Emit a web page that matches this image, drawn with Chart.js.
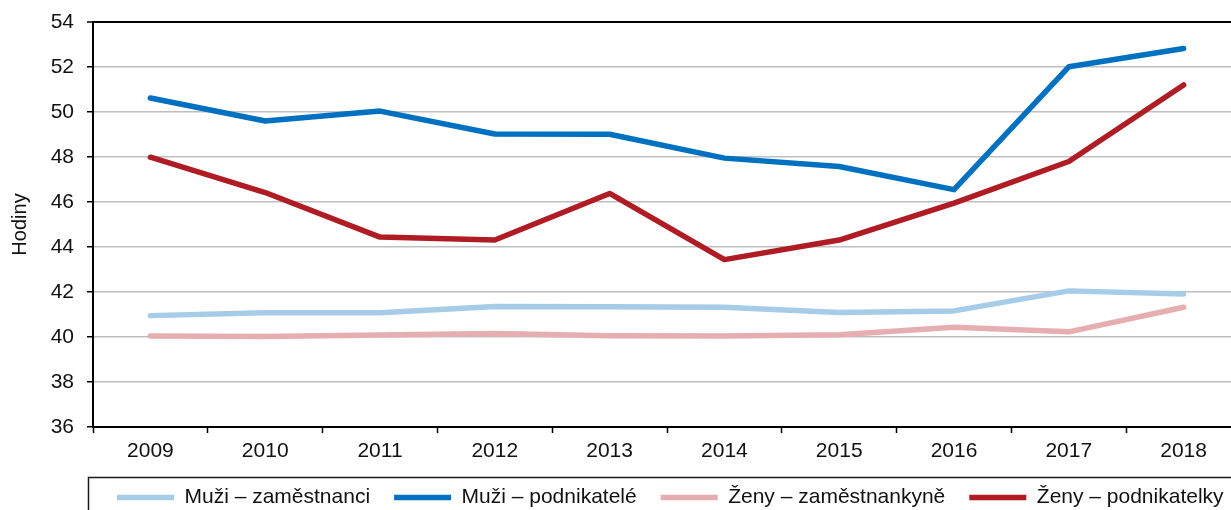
<!DOCTYPE html>
<html>
<head>
<meta charset="utf-8">
<script src="https://cdn.jsdelivr.net/npm/chart.js@4/dist/chart.umd.min.js"></script>
<style>
  html, body { margin: 0; padding: 0; background: #fff; overflow: hidden; }
  #wrap { width: 1250px; height: 518px; }
</style>
</head>
<body>
<div id="wrap"><canvas id="c" width="1250" height="518"></canvas></div>
<script>
const years = ['2009','2010','2011','2012','2013','2014','2015','2016','2017','2018'];
const seriesNames = ['Muži – zaměstnanci','Muži – podnikatelé','Ženy – zaměstnankyně','Ženy – podnikatelky'];
const muziZamestnanci = [40.95, 41.08, 41.08, 41.36, 41.35, 41.32, 41.09, 41.16, 42.05, 41.91];
const muziPodnikatele = [50.62, 49.60, 50.04, 49.02, 49.01, 47.95, 47.58, 46.55, 52.01, 52.82];
const zenyZamestnankyne = [40.04, 40.02, 40.09, 40.16, 40.06, 40.04, 40.10, 40.43, 40.23, 41.32];
const zenyPodnikatelky = [47.99, 46.42, 44.44, 44.31, 46.38, 43.44, 44.31, 45.95, 47.80, 51.20];
const yTicksMin = 36, yTicksMax = 54, yStep = 2;
const yTitle = 'Hodiny';
const colors = ['#A6CCE8', '#0070C0', '#E6AEB1', '#B01C24'];

const FONT = "'Liberation Sans', Arial, sans-serif";

const legendPlugin = {
  id: 'legendFrame',
  afterLayout(chart) {
    if (chart.legend) {
      const w = chart.legend.width;
      chart.legend.left = chart.chartArea.left;
      chart.legend.right = chart.legend.left + w;
    }
  },
  beforeDraw(chart) {
    const ctx = chart.ctx;
    ctx.save();
    ctx.strokeStyle = '#1a1a1a';
    ctx.lineWidth = 1.5;
    ctx.strokeRect(88.5, 477.5, chart.width, 80);
    ctx.restore();
  }
};

const vals = [muziZamestnanci, muziPodnikatele, zenyZamestnankyne, zenyPodnikatelky];
new Chart(document.getElementById('c'), {
  type: 'line',
  data: {
    labels: years,
    datasets: seriesNames.map((n, i) => ({
      label: n,
      data: vals[i],
      borderColor: colors[i],
      backgroundColor: colors[i],
      borderWidth: 5.5,
      borderCapStyle: 'round',
      borderJoinStyle: 'round',
      pointRadius: 0,
      pointStyle: 'line',
      tension: 0,
      fill: false
    }))
  },
  options: {
    responsive: false,
    devicePixelRatio: 1,
    animation: false,
    layout: { padding: { top: 22, right: 9, left: 0, bottom: 0 } },
    plugins: {
      tooltip: { enabled: false },
      legend: {
        position: 'bottom',
        align: 'start',
        labels: {
          usePointStyle: true,
          pointStyleWidth: 57,
          boxHeight: 21,
          padding: 24,
          color: '#111',
          font: { family: FONT, size: 21 }
        }
      }
    },
    scales: {
      x: {
        type: 'category',
        offset: true,
        afterFit(s) { s.height = 36; s.paddingLeft = 0; s.paddingRight = 0; },
        border: { display: true, color: '#000', width: 2 },
        grid: {
          offset: true,
          drawOnChartArea: false,
          drawTicks: true,
          tickLength: 6,
          tickColor: '#000',
          tickWidth: 1.5
        },
        ticks: { color: '#111', padding: 6, font: { family: FONT, size: 21 }, maxRotation: 0 }
      },
      y: {
        min: yTicksMin,
        max: yTicksMax,
        afterFit(s) { s.width = 93; s.paddingTop = 0; s.paddingBottom = 0; },
        border: { display: true, color: '#000', width: 2 },
        grid: {
          color: (ctx) => (ctx.tick && (ctx.tick.value === yTicksMax || ctx.tick.value === yTicksMin)) ? '#000' : '#BFBFBF',
          lineWidth: (ctx) => (ctx.tick && ctx.tick.value === yTicksMax) ? 2 : 1.5,
          drawTicks: true,
          tickLength: 6,
          tickColor: '#000',
          tickWidth: 1.5
        },
        ticks: { stepSize: yStep, color: '#111', padding: 13, font: { family: FONT, size: 21 } },
        title: {
          display: true,
          text: yTitle,
          color: '#111',
          font: { family: FONT, size: 20 },
          padding: { top: 8, bottom: 0 }
        }
      }
    }
  },
  plugins: [legendPlugin]
});
</script>
</body>
</html>
